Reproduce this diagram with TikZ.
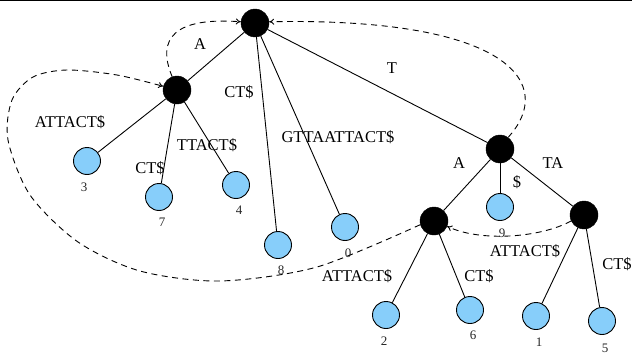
\documentclass[tikz,border=0pt]{standalone}
\usepackage{fontspec}
\setmainfont{Liberation Serif}
\usetikzlibrary{arrows.meta}
\definecolor{leafblue}{HTML}{87CEFA}
\begin{document}
\begin{tikzpicture}[x=1pt,y=-1pt,
  inner/.style={circle,fill=black,draw=black,minimum size=28pt,inner sep=0pt},
  leaf/.style={circle,fill=leafblue,draw=black,line width=0.9pt,minimum size=27pt,inner sep=0pt},
  edge/.style={line width=0.9pt},
  lbl/.style={font=\fontsize{16.5}{18}\selectfont,inner sep=0pt},
  num/.style={font=\fontsize{13}{14}\selectfont,text=black!85,inner sep=0pt},
  link/.style={dashed,dash pattern=on 6pt off 4.5pt,line width=0.9pt,-{To[length=5pt,width=6pt]}}]
\useasboundingbox (0,0) rectangle (632,356);
\draw[line width=1.5pt] (0,0.5) -- (632,0.5);
% inner nodes
\node[inner] (root) at (255,23) {};
\node[inner] (nA) at (177,90) {};
\node[inner] (nT) at (500,149) {};
\node[inner] (nTA) at (434,221) {};
\node[inner] (nTTA) at (584,215) {};
% leaves
\node[leaf] (l3) at (87,161) {};
\node[leaf] (l7) at (159,197) {};
\node[leaf] (l4) at (236,185) {};
\node[leaf] (l8) at (278,245) {};
\node[leaf] (l0) at (345,227) {};
\node[leaf] (l9) at (500,207) {};
\node[leaf] (l2) at (386,315) {};
\node[leaf] (l6) at (470,310) {};
\node[leaf] (l1) at (536,316) {};
\node[leaf] (l5) at (602,321) {};
% leaf numbers
\node[num] (n3) at (84,187) {3};
\node[num] (n7) at (162,222) {7};
\node[num] (n4) at (239,210) {4};
\node[num] (n8) at (281,270) {8};
\node[num] (n0) at (348,253) {0};
\node[num] (n9) at (502,233) {9};
\node[num] (n2) at (384,341) {2};
\node[num] (n6) at (473,335) {6};
\node[num] (n1) at (539,342) {1};
\node[num] (n5) at (605,348) {5};
% edges
\draw[edge] (root) -- (nA);
\draw[edge] (root) -- (l8);
\draw[edge] (root) -- (l0);
\draw[edge] (root) -- (nT);
\draw[edge] (nA) -- (l3);
\draw[edge] (nA) -- (l7);
\draw[edge] (nA) -- (l4);
\draw[edge] (nT) -- (nTA);
\draw[edge] (nT) -- (l9);
\draw[edge] (nT) -- (nTTA);
\draw[edge] (nTA) -- (l2);
\draw[edge] (nTA) -- (l6);
\draw[edge] (nTTA) -- (l1);
\draw[edge] (nTTA) -- (l5);
% edge labels
\node[lbl] at (200,44) {A};
\node[lbl] at (239,92) {CT\$};
\node[lbl] at (70,122) {ATTACT\$};
\node[lbl] at (207,145) {TTACT\$};
\node[lbl] at (150,168) {CT\$};
\node[lbl] at (338,137) {GTTAATTACT\$};
\node[lbl] at (392,68) {T};
\node[lbl] at (459,163) {A};
\node[lbl] at (553,163) {TA};
\node[lbl] at (517,182) {\$};
\node[lbl] at (357,276) {ATTACT\$};
\node[lbl] at (479,276) {CT\$};
\node[lbl] at (525,251) {ATTACT\$};
\node[lbl] at (617,264) {CT\$};
% suffix links
\draw[link] (nA.110) .. controls (156,38) and (175,17) .. (root.175);
\draw[link] (nT.55) .. controls (556,85) and (512,17) .. (root.5);
\draw[link] plot[smooth] coordinates {(nTA.195) (317,267) (220,281) (140,271) (78,242) (30,195) (8,140) (12,100) (33,77) (67,70) (117,75) (nA.165)};
\draw[link] (nTTA.205) .. controls (540,238) and (480,242) .. (nTA.-22);
\end{tikzpicture}
\end{document}
